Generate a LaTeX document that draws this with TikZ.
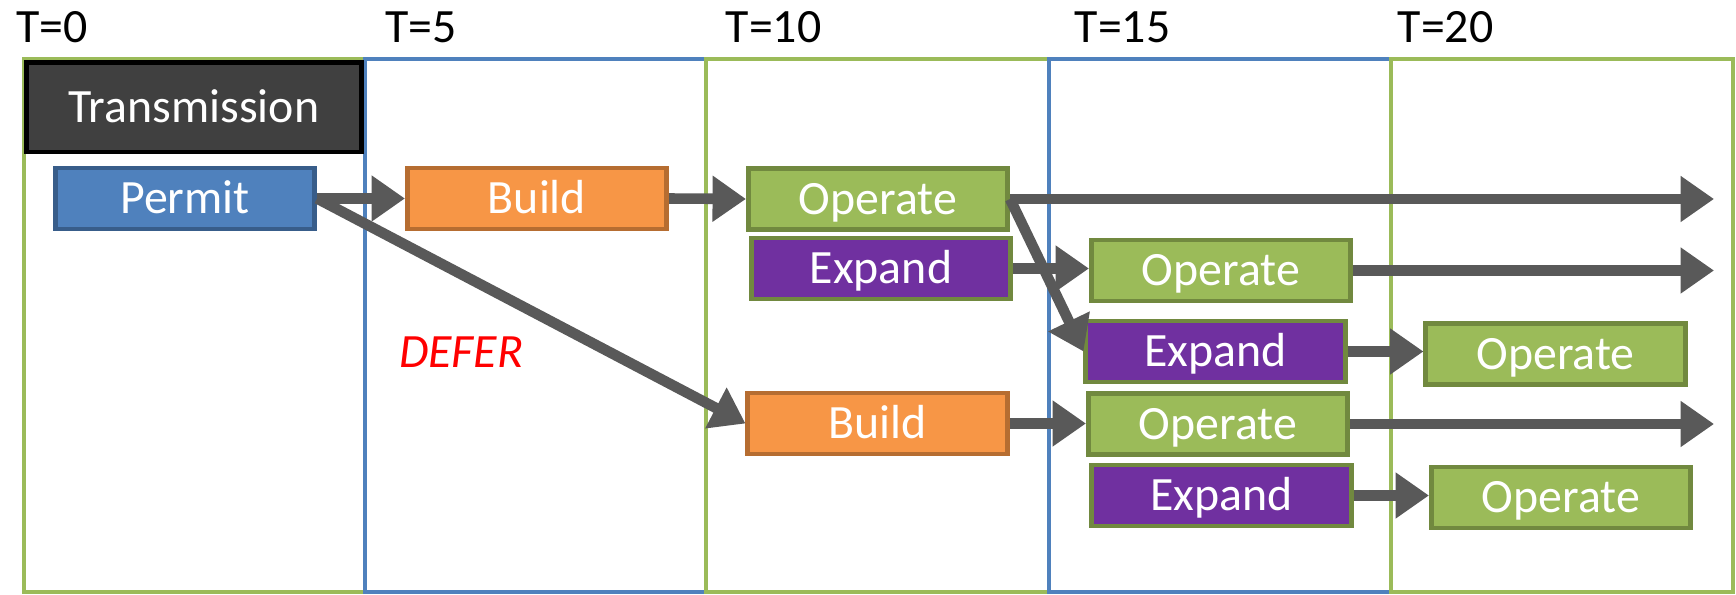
\documentclass[tikz,border=0pt]{standalone}
\usepackage{fontspec}
\setmainfont{Carlito}
\usetikzlibrary{arrows.meta}
\definecolor{greencol}{HTML}{9BBB59}
\definecolor{bluecol}{HTML}{4F81BD}
\definecolor{permitline}{HTML}{385D8A}
\definecolor{buildfill}{HTML}{F79646}
\definecolor{buildline}{HTML}{B66D31}
\definecolor{operateline}{HTML}{71893F}
\definecolor{expandfill}{HTML}{7030A0}
\definecolor{arrowgray}{HTML}{595959}

\begin{document}
\begin{tikzpicture}[x=0.01cm,y=-0.01cm,
                    every node/.style={font=\fontsize{13.6}{15}\selectfont},
                    stage/.style={draw,line width=1.4pt,text=white,minimum width=2.59cm,minimum height=0.61cm,inner sep=0pt,text height=8.6pt,text depth=0pt},
                    permitbox/.style={stage,fill=bluecol,draw=permitline},
                    buildbox/.style={stage,fill=buildfill,draw=buildline},
                    operatebox/.style={stage,fill=greencol,draw=operateline},
                    expandbox/.style={stage,fill=expandfill,draw=operateline},
                    timelabel/.style={anchor=west,inner sep=0pt},
                    column/.style={line width=1.3pt},
                    flow/.style={draw=arrowgray,line width=3pt,-{Triangle[length=9.5pt,width=12.5pt]}}]
                    \useasboundingbox (0,0) rectangle (1736,595);

                    \draw[column,greencol] (24,59) rectangle (365,592);
                    \draw[column,bluecol] (365,59) rectangle (706,592);
                    \draw[column,greencol] (706,59) rectangle (1049,592);
                    \draw[column,bluecol] (1049,59) rectangle (1391,592);
                    \draw[column,greencol] (1391,59) rectangle (1733,592);

                    \node[timelabel] (T0 label) at (16,27) {T=0};
                    \node[timelabel] (T5 label) at (385,27) {T=5};
                    \node[timelabel] (T10 label) at (725,27) {T=10};
                    \node[timelabel] (T15 label) at (1074,27) {T=15};
                    \node[timelabel] (T20 label) at (1397,27) {T=20};

                    \node[stage,draw=black,fill=black!75,minimum width=3.35cm,minimum height=0.89cm] (TR node) at (194,107.5) {Transmission};
                    \node[permitbox] (P node) at (185,198.5) {Permit};
                    \node[buildbox] (B1 node) at (537,198.5) {Build};
                    \node[buildbox] (B2 node) at (877.5,423.5) {Build};
                    \node[operatebox] (O1 node) at (878,199) {Operate};
                    \node[expandbox] (E1 node) at (881,268.5) {Expand};
                    \node[operatebox] (O2 node) at (1221,270.5) {Operate};
                    \node[expandbox] (E2 node) at (1215.5,351.5) {Expand};
                    \node[operatebox] (O3 node) at (1555.5,354) {Operate};
                    \node[operatebox] (O4 node) at (1218,424) {Operate};
                    \node[expandbox] (E3 node) at (1221.5,495.5) {Expand};
                    \node[operatebox] (O5 node) at (1561,497.5) {Operate};
                    \node[timelabel,text=red,font=\fontsize{13.6}{15}\selectfont\itshape] (DEFER node) at (398.5,352) {DEFER};

                    \coordinate (O1 end) at (1714,199);
                    \coordinate (O2 end) at (1714,270.5);
                    \coordinate (O4 end) at (1714,424);

                    \draw[flow] (P node.east) -- (B1 node.west);
                    \draw[flow] (P node.east) -- (B2 node.west);
                    \draw[flow] (B1 node.east) -- (O1 node.west);
                    \draw[flow] (O1 node.east) -- (O1 end);
                    \draw[flow] (O1 node.east) -- (E2 node.west);
                    \draw[flow] (E1 node.east) -- (E1 node.east -| O2 node.west);
                    \draw[flow] (O2 node.east) -- (O2 end);
                    \draw[flow] (E2 node.east) -- (E2 node.east -| O3 node.west);
                    \draw[flow] (B2 node.east) -- (B2 node.east -| O4 node.west);
                    \draw[flow] (O4 node.east) -- (O4 end);
                    \draw[flow] (E3 node.east) -- (E3 node.east -| O5 node.west);

                \end{tikzpicture}
\end{document}
